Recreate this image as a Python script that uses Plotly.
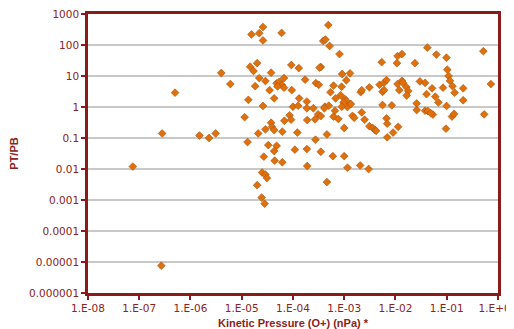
import plotly.graph_objects as go

# Kinetic pressure (O+) in nPa  /  PT/PB ratio
kinetic_pressure = [
    7.5e-8, 2.8e-7, 5.0e-7, 2.7e-7, 1.5e-6, 2.3e-6, 3.1e-6, 4.0e-6, 6.0e-6, 1.14e-5, 1.3e-5, 1.35e-5, 2.0e-5,
    2.6e-5, 1.55e-5, 2.2e-5, 2.6e-5, 6.0e-5, 1.46e-5, 2.0e-5, 1.7e-5, 2.2e-5, 2.9e-5, 3.75e-5, 1.83e-5, 3.5e-5,
    4.8e-5, 5.4e-5, 6.1e-5, 6.7e-5, 6.7e-5, 5.0e-5, 9.5e-5, 9.3e-5, 1.3e-4, 1.73e-4, 2.8e-4, 4.3e-5, 2.6e-5,
    1.32e-4, 1.87e-4, 1.0e-4, 1.26e-4, 1.87e-4, 2.5e-4,
    4.9e-4, 3.9e-4, 4.3e-4, 5.2e-4, 8.1e-4, 3.5e-4, 3.3e-4, 9.1e-4, 1.3e-3, 1.1e-3, 3.2e-4, 5.4e-4, 6.2e-4,
    8.9e-4, 8.5e-4, 6.8e-4, 1.03e-3, 1.1e-3, 9.7e-4, 1.16e-3, 1.35e-3, 9.0e-4, 4.2e-4, 5.0e-4, 2.1e-3, 2.2e-3,
    3.1e-3, 4.9e-3, 6.0e-3, 6.7e-3, 5.6e-3, 6.0e-3, 5.4e-3, 1.07e-2, 1.1e-2, 1.34e-2, 1.1e-2, 1.34e-2, 1.4e-2,
    1.19e-2, 5.6e-3, 8.5e-3,
    4.2e-2, 6.3e-2, 9.9e-2, 2.4e-2, 0.52, 0.103, 0.109, 0.116, 3.0e-2, 3.8e-2, 5.2e-2, 8.5e-2, 0.13, 0.143,
    0.21, 0.73, 4.05e-2, 6.0e-2, 1.63e-2, 1.78e-2, 1.66e-2, 0.21, 6.9e-2, 0.0995, 2.6e-2,
    2.6e-2, 3.8e-2, 4.3e-2, 5.4e-2, 4.9e-2, 0.127, 0.14, 0.54, 9.7e-2,
    3.75e-5, 2.9e-5, 2.1e-5, 3.9e-5, 4.3e-5, 6.2e-5, 6.8e-5, 8.6e-5, 9.2e-5, 1.9e-4, 2.7e-4, 1.22e-4, 3.3e-5,
    4.8e-5, 4.3e-5, 2.7e-5, 1.09e-4, 1.87e-4, 2.75e-4, 4.4e-5, 6.2e-5, 1.9e-4, 2.5e-5, 2.9e-5, 3.1e-5, 2.45e-5,
    2.8e-5,
    3.1e-4, 3.5e-4, 4.1e-4, 6.2e-4, 6.6e-4, 7.7e-4, 1.45e-3, 1.57e-3, 2.2e-3, 2.5e-3, 1.0e-3, 3.1e-3, 3.6e-3,
    4.0e-3, 4.2e-3, 6.7e-3, 6.9e-3, 1.13e-2, 9.0e-3, 6.9e-3, 4.6e-4, 3.5e-4, 6.0e-4, 1.0e-3, 1.16e-3, 2.05e-3,
    3.0e-3, 4.6e-4,
]
pt_pb = [
    0.012, 0.14, 2.9, 7.6e-6, 0.12, 0.10, 0.14, 12.5, 5.5, 0.47, 0.074, 1.7, 0.003,
    380, 220, 240, 140, 245, 20, 26, 14.5, 8.6, 6.9, 12.8, 4.7, 3.5,
    5.8, 6.5, 5.1, 8.6, 4.2, 4.6, 3.5, 22.6, 18, 7.6, 5.9, 1.9, 1.08,
    1.9, 1.5, 1.02, 1.1, 0.91, 0.91,
    440, 135, 150, 93, 51, 19.5, 18.5, 11.6, 12.2, 7.3, 5.2, 3.0, 4.9,
    4.5, 2.4, 1.9, 1.8, 1.6, 1.4, 1.0, 1.25, 1.02, 1.02, 1.1, 3.0, 3.5,
    4.3, 5.2, 6.1, 7.4, 3.1, 3.5, 28, 26, 44, 51, 5.5, 7.0, 6.1,
    3.5, 1.16, 1.13,
    82, 49, 39, 26, 63, 16, 10, 7.0, 6.7, 6.0, 4.0, 4.2, 4.7, 2.9,
    4.0, 5.5, 2.6, 2.15, 4.4, 3.3, 2.35, 1.65, 1.4, 1.08, 1.3,
    0.8, 0.76, 0.74, 0.57, 0.63, 0.49, 0.6, 0.58, 0.2,
    0.31, 0.19, 0.14, 0.23, 0.18, 0.16, 0.36, 0.54, 0.39, 0.38, 0.40, 0.15, 0.059,
    0.056, 0.038, 0.025, 0.042, 0.044, 0.088, 0.0185, 0.0165, 0.0125, 0.0077, 0.0066, 0.0051, 0.0012,
    0.00076,
    0.58, 0.51, 0.91, 0.49, 0.76, 0.41, 0.52, 0.45, 0.67, 0.39, 0.21, 0.24, 0.21,
    0.18, 0.17, 0.43, 0.29, 0.23, 0.15, 0.105, 0.13, 0.036, 0.026, 0.026, 0.011, 0.013,
    0.010, 0.0038,
]

x_tick_vals = [1e-8, 1e-7, 1e-6, 1e-5, 1e-4, 1e-3, 1e-2, 1e-1, 1e0]
x_tick_text = ["1.E-08", "1.E-07", "1.E-06", "1.E-05", "1.E-04", "1.E-03", "1.E-02", "1.E-01", "1.E+00"]
y_tick_vals = [1e-6, 1e-5, 1e-4, 1e-3, 1e-2, 1e-1, 1, 10, 100, 1000]
y_tick_text = ["0.000001", "0.00001", "0.0001", "0.001", "0.01", "0.1", "1", "10", "100", "1000"]

axis_red = "#8B1A1A"
text_red = "#8B2323"

fig = go.Figure(go.Scatter(
    x=kinetic_pressure, y=pt_pb, mode="markers",
    marker=dict(symbol="diamond", size=6, color="#E0700C",
                line=dict(color="#A8520A", width=0.6)),
    showlegend=False,
))

# the page body adds an 8px offset, so the figure is 8px smaller than the window
fig.update_layout(
    width=506, height=321,
    margin=dict(l=80, r=16, t=6, b=36),
    paper_bgcolor="white", plot_bgcolor="white",
    font=dict(family="DejaVu Sans", size=10.5, color=text_red),
)
fig.update_xaxes(
    type="log", range=[-8, 0.002],
    tickvals=x_tick_vals, ticktext=x_tick_text,
    ticklabeloverflow="allow", automargin=False,
    showgrid=False, zeroline=False,
    showline=True, linecolor=axis_red, linewidth=2.5, mirror=True,
    ticks="outside", ticklen=4, tickcolor=axis_red, tickwidth=1.5,
    tickfont=dict(family="DejaVu Sans", size=10.5, color=text_red),
    title=dict(text="<b>Kinetic Pressure (O+) (nPa) *</b>",
               font=dict(family="Liberation Sans", size=11, color=text_red)),
)
fig.update_yaxes(
    type="log", range=[-6, 3],
    tickvals=y_tick_vals, ticktext=y_tick_text,
    ticklabeloverflow="allow", automargin=False,
    showgrid=True, gridcolor="#C8C8C8", gridwidth=1.5, zeroline=False,
    showline=True, linecolor=axis_red, linewidth=2.5, mirror=True,
    ticks="outside", ticklen=4, tickcolor=axis_red, tickwidth=1.5,
    tickfont=dict(family="DejaVu Sans", size=10.5, color=text_red),
    title=dict(text="<b>PT/PB</b>",
               font=dict(family="Liberation Sans", size=11, color=text_red)),
)

fig.write_html("out.html")
